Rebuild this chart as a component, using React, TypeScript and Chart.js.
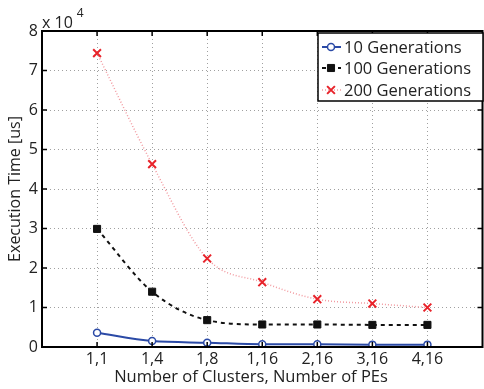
import React, { useEffect, useRef } from "react";
import { Chart, registerables } from "chart.js";

Chart.register(...registerables);

const categories = ["1,1", "1,4", "1,8", "1,16", "2,16", "3,16", "4,16"];
const gen10 = [3600, 1500, 1100, 700, 700, 600, 600];
const gen100 = [29900, 14000, 6800, 5700, 5700, 5600, 5600];
const gen200 = [74400, 46300, 22400, 16400, 12100, 11000, 10000];
const yTickLabels = ["0", "1", "2", "3", "4", "5", "6", "7", "8"];
const seriesNames = ["10 Generations", "100 Generations", "200 Generations"];
const xTitle = "Number of Clusters, Number of PEs";
const yTitle = "Execution Time [us]";

const FONT = "'Open Sans', 'Noto Sans', sans-serif";
const TEXT = "#222";

function drawMarker(ctx: CanvasRenderingContext2D, ds: any, x: number, y: number) {
  const r = ds.pointRadius;
  ctx.strokeStyle = ds.pointBorderColor;
  ctx.fillStyle = ds.pointBackgroundColor;
  ctx.lineWidth = ds.pointBorderWidth;
  ctx.setLineDash([]);
  ctx.beginPath();
  if (ds.pointStyle === "circle") {
    ctx.arc(x, y, r, 0, Math.PI * 2);
    ctx.fill();
    ctx.stroke();
  } else if (ds.pointStyle === "rect") {
    const s = r * Math.SQRT1_2;
    ctx.rect(x - s, y - s, 2 * s, 2 * s);
    ctx.fill();
    ctx.stroke();
  } else {
    const d = r * Math.SQRT1_2;
    ctx.moveTo(x - d, y - d);
    ctx.lineTo(x + d, y + d);
    ctx.moveTo(x - d, y + d);
    ctx.lineTo(x + d, y - d);
    ctx.stroke();
  }
}

const framePlugin = {
  id: "frame",
  afterDraw(chart: any) {
    const { ctx, chartArea: a, scales } = chart;
    const xs = scales.x;
    const ys = scales.y;
    ctx.save();
    ctx.strokeStyle = "#000";
    ctx.lineWidth = 2;
    ctx.strokeRect(a.left, a.top, a.right - a.left, a.bottom - a.top);
    ctx.lineWidth = 1.5;
    const tl = 5;
    ctx.beginPath();
    for (let i = 0; i < categories.length; i++) {
      const px = xs.getPixelForValue(i + 1);
      ctx.moveTo(px, a.bottom);
      ctx.lineTo(px, a.bottom - tl);
      ctx.moveTo(px, a.top);
      ctx.lineTo(px, a.top + tl);
    }
    for (let i = 0; i < yTickLabels.length; i++) {
      const py = ys.getPixelForValue(i * 10000);
      ctx.moveTo(a.left, py);
      ctx.lineTo(a.left + tl, py);
      ctx.moveTo(a.right, py);
      ctx.lineTo(a.right - tl, py);
    }
    ctx.stroke();
    ctx.fillStyle = TEXT;
    ctx.textBaseline = "alphabetic";
    ctx.textAlign = "left";
    ctx.font = `16px ${FONT}`;
    ctx.fillText("x 10", a.left, a.top - 3);
    const w = ctx.measureText("x 10").width;
    ctx.font = `12px ${FONT}`;
    ctx.fillText("4", a.left + w + 4, a.top - 14);

    // x axis title
    ctx.font = `16.5px ${FONT}`;
    ctx.textAlign = "center";
    ctx.textBaseline = "alphabetic";
    ctx.fillText(xTitle, 251, 382);

    // legend
    const bx = 318, by = 33, bw = 165, bh = 68;
    ctx.fillStyle = "#fff";
    ctx.fillRect(bx, by, bw, bh);
    ctx.strokeStyle = "#000";
    ctx.lineWidth = 1.5;
    ctx.strokeRect(bx, by, bw, bh);
    const rowsY = [47, 68, 90];
    chart.data.datasets.forEach((ds: any, i: number) => {
      const y = rowsY[i];
      ctx.save();
      ctx.strokeStyle = ds.borderColor;
      ctx.lineWidth = ds.borderWidth;
      ctx.setLineDash(ds.borderDash || []);
      ctx.beginPath();
      ctx.moveTo(bx + 4, y);
      ctx.lineTo(bx + 23, y);
      ctx.stroke();
      drawMarker(ctx, ds, bx + 13, y);
      ctx.restore();
      ctx.fillStyle = TEXT;
      ctx.font = `16.5px ${FONT}`;
      ctx.textBaseline = "middle";
      ctx.textAlign = "left";
      ctx.fillText(seriesNames[i], bx + 26, y + 1);
    });
    ctx.restore();
  },
};

export default function App() {
  const ref = useRef<HTMLCanvasElement>(null);
  useEffect(() => {
    const toPts = (arr: number[]) => arr.map((v, i) => ({ x: i + 1, y: v }));
    const chart = new Chart(ref.current!, {
      type: "line",
      data: {
        datasets: [
          {
            label: seriesNames[0],
            data: toPts(gen10),
            borderColor: "#2b4aa6",
            borderWidth: 2,
            pointStyle: "circle",
            pointRadius: 3.5,
            pointBorderWidth: 1.5,
            pointBorderColor: "#2b4aa6",
            pointBackgroundColor: "#fff",
            cubicInterpolationMode: "monotone",
          },
          {
            label: seriesNames[1],
            data: toPts(gen100),
            borderColor: "#111",
            borderWidth: 2,
            borderDash: [4, 4],
            pointStyle: "rect",
            pointRadius: 5,
            pointBorderWidth: 1,
            pointBorderColor: "#111",
            pointBackgroundColor: "#111",
            cubicInterpolationMode: "monotone",
          },
          {
            label: seriesNames[2],
            data: toPts(gen200),
            borderColor: "#f29aa0",
            borderWidth: 1.5,
            borderDash: [1, 2],
            pointStyle: "crossRot",
            pointRadius: 5.5,
            pointBorderWidth: 2,
            pointBorderColor: "#e8232a",
            pointBackgroundColor: "#e8232a",
            cubicInterpolationMode: "monotone",
          },
        ] as any,
      },
      options: {
        animation: false,
        responsive: false,
        events: [],
        layout: { padding: { top: 31, right: 3, left: 0, bottom: 0 } },
        plugins: { legend: { display: false }, tooltip: { enabled: false } },
        scales: {
          x: {
            type: "linear",
            min: 0,
            max: 8,
            afterBuildTicks: (s: any) => {
              s.ticks = categories.map((_, i) => ({ value: i + 1 }));
            },
            afterFit: (s: any) => {
              s.height = 42;
            },
            ticks: {
              autoSkip: false,
              maxRotation: 0,
              padding: 3,
              color: TEXT,
              font: { family: FONT, size: 16 },
              callback: (v: any) => categories[Number(v) - 1] ?? "",
            },
            grid: {
              drawTicks: false,
              color: "#a0a0a0",
              lineWidth: 1,
            },
            border: { display: false, dash: [1, 3] },
            title: { display: false },
          },
          y: {
            min: 0,
            max: 80000,
            afterBuildTicks: (s: any) => {
              s.ticks = yTickLabels.map((_, i) => ({ value: i * 10000 }));
            },
            afterFit: (s: any) => {
              s.width = 42;
            },
            ticks: {
              padding: 4,
              color: TEXT,
              font: { family: FONT, size: 16 },
              callback: (v: any) => yTickLabels[Math.round(Number(v) / 10000)] ?? "",
            },
            grid: {
              drawTicks: false,
              color: (c: any) =>
                c.tick && (c.tick.value === 0 || c.tick.value === 80000) ? "rgba(0,0,0,0)" : "#a0a0a0",
              lineWidth: 1,
            },
            border: { display: false, dash: [1, 3] },
            title: {
              display: true,
              text: yTitle,
              color: TEXT,
              font: { family: FONT, size: 16 },
              padding: { top: 6, bottom: 0 },
            },
          },
        },
      } as any,
      plugins: [framePlugin],
    });
    return () => chart.destroy();
  }, []);
  return (
    <div style={{ position: "fixed", left: 0, top: 0, width: 490, height: 389, background: "#fff" }}>
      <canvas ref={ref} width={490} height={389} style={{ width: 490, height: 389 }} />
    </div>
  );
}
